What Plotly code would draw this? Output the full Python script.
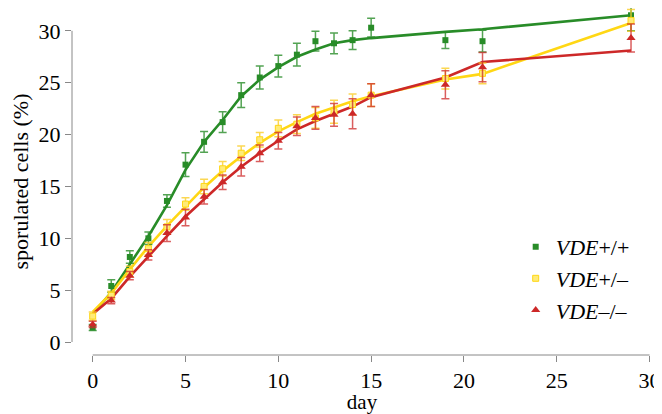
import plotly.graph_objects as go

days = [0, 1, 2, 3, 4, 5, 6, 7, 8, 9, 10, 11, 12, 13, 14, 15, 19, 21, 29]

green_pts = [1.4, 5.4, 8.2, 10.0, 13.6, 17.1, 19.3, 21.2, 23.8, 25.5, 26.6, 27.7, 29.0, 28.8, 29.1, 30.3, 29.1, 29.0, 31.5]
green_err = [0.3, 0.6, 0.6, 0.6, 0.6, 1.15, 1.0, 1.0, 1.2, 1.1, 1.05, 1.1, 0.95, 1.0, 0.9, 0.9, 0.8, 1.05, 1.5]
green_fit = [2.7, 4.8, 7.5, 10.2, 13.2, 16.6, 19.3, 21.4, 23.7, 25.3, 26.5, 27.5, 28.2, 28.8, 29.1, 29.3, 29.9, 30.15, 31.5]

yellow_pts = [2.5, 4.5, 6.8, 9.0, 11.1, 13.3, 15.0, 16.7, 18.2, 19.5, 20.6, 21.0, 21.6, 22.2, 22.9, 23.8, 25.4, 25.9, 31.0]
yellow_err = [0.4, 0.4, 0.5, 0.6, 0.7, 0.6, 0.7, 0.7, 0.7, 0.7, 0.8, 0.9, 1.0, 1.1, 1.0, 1.1, 1.0, 1.0, 1.05]
yellow_fit = [2.9, 4.7, 7.0, 9.2, 11.2, 13.1, 14.9, 16.5, 17.9, 19.2, 20.3, 21.2, 22.0, 22.6, 23.2, 23.7, 25.3, 25.85, 30.75]

red_pts = [1.7, 4.0, 6.4, 8.4, 10.5, 12.0, 14.0, 15.4, 16.9, 18.2, 19.4, 20.8, 21.6, 21.9, 22.0, 23.8, 24.8, 26.5, 29.3]
red_err = [0.3, 0.3, 0.4, 0.5, 0.8, 0.8, 0.7, 0.7, 0.9, 0.8, 0.8, 0.9, 1.1, 1.1, 1.45, 1.1, 1.35, 1.4, 1.35]
red_fit = [2.7, 4.2, 6.3, 8.3, 10.2, 12.1, 13.8, 15.4, 16.9, 18.2, 19.4, 20.5, 21.3, 22.0, 22.7, 23.6, 25.5, 27.0, 28.1]

labels = ["<i>VDE</i>+/+", "<i>VDE</i>+/–", "<i>VDE</i>–/–"]
x_ticks = [0, 5, 10, 15, 20, 25, 30]
y_ticks = [0, 5, 10, 15, 20, 25, 30]

GREEN = "rgb(40,140,40)"
YELLOW = "rgb(255,215,20)"
RED = "rgb(205,40,40)"
FONT = "Liberation Serif, DejaVu Serif, Times New Roman, serif"

series = [
    (labels[0], green_pts, green_err, green_fit, GREEN, "rgba(40,140,40,0.8)",
     dict(symbol="square", size=6, color=GREEN)),
    (labels[1], yellow_pts, yellow_err, yellow_fit, YELLOW, "rgba(250,205,40,0.8)",
     dict(symbol="square", size=6, color="rgb(255,235,120)", line=dict(color=YELLOW, width=1))),
    (labels[2], red_pts, red_err, red_fit, RED, "rgba(205,40,40,0.75)",
     dict(symbol="triangle-up", size=8, color=RED)),
]

fig = go.Figure()
for name, pts, err, fit, col, ecol, mk in series:
    fig.add_trace(go.Scatter(
        x=days, y=fit, mode="lines", line=dict(color=col, width=2.6),
        showlegend=False, hoverinfo="skip"))
for name, pts, err, fit, col, ecol, mk in series:
    fig.add_trace(go.Scatter(
        x=days, y=pts, mode="markers", name=name, marker=mk,
        error_y=dict(type="data", array=err, visible=True, color=ecol,
                     thickness=1.5, width=4)))

fig.update_layout(
    width=654, height=406,
    margin=dict(l=64, r=10, t=0, b=59, autoexpand=False),
    paper_bgcolor="white", plot_bgcolor="white",
    font=dict(family=FONT, size=22, color="black"),
    showlegend=True,
    legend=dict(x=0.765, y=0.372, xanchor="left", yanchor="top",
                font=dict(family=FONT, size=22), bgcolor="rgba(0,0,0,0)",
                tracegroupgap=0, itemwidth=30),
    xaxis=dict(range=[-1.115, 30.13], tickvals=x_ticks, ticks="outside",
               ticklen=6, tickcolor="#888", showgrid=False, zeroline=False,
               showline=False, automargin=False, tickfont=dict(family=FONT, size=22),
               title=dict(text="day", font=dict(family=FONT, size=21), standoff=4)),
    yaxis=dict(range=[-1.25, 32.2], tickvals=y_ticks, ticks="outside",
               ticklen=6, tickcolor="#888", showgrid=False, zeroline=False,
               showline=False, automargin=False, tickfont=dict(family=FONT, size=22),
               title=dict(text="sporulated cells (%)", font=dict(family=FONT, size=22), standoff=4)),
    shapes=[
        dict(type="line", xref="x", yref="paper", x0=0, x1=30, y0=0, y1=0,
             line=dict(color="#888", width=1)),
        dict(type="line", xref="paper", yref="y", x0=0, x1=0, y0=0, y1=30,
             line=dict(color="#888", width=1)),
    ],
)

fig.write_html("out.html")
